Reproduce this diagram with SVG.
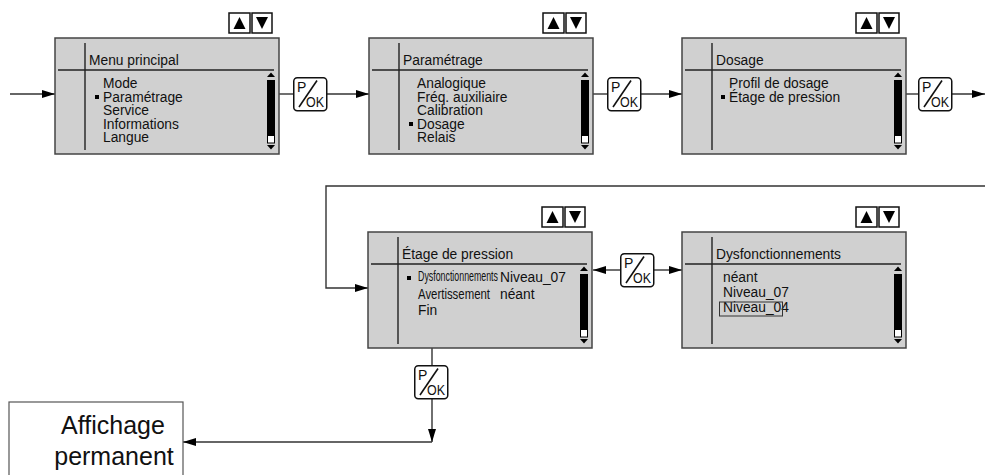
<svg xmlns="http://www.w3.org/2000/svg" xmlns:xlink="http://www.w3.org/1999/xlink" width="985" height="475" viewBox="0 0 985 475">
<style>
  .panel{fill:#d0d0d0;stroke:#444;stroke-width:1.5}
  .div{stroke:#222;stroke-width:1.4;fill:none}
  .t{font-family:"Liberation Sans",Arial,sans-serif;font-size:13.8px;fill:#111}
  .big{font-family:"Liberation Sans",Arial,sans-serif;font-size:25px;fill:#111}
  .conn{stroke:#333;stroke-width:1.4;fill:none}
  .btn{fill:#fff;stroke:#111;stroke-width:1.5}
  .bt{font-family:"Liberation Sans",Arial,sans-serif;font-size:14px;fill:#111}
</style>
<defs>
  <marker id="ah" markerUnits="userSpaceOnUse" markerWidth="13" markerHeight="8" refX="13" refY="4" orient="auto">
    <path d="M0,0 L13,4 L0,8 z" fill="#000"/>
  </marker>
  <g id="scroll">
    <path d="M212,39 L220,39 L216,34.5 z" fill="#000"/>
    <rect x="212" y="42" width="8" height="55" fill="#000"/>
    <rect x="212.5" y="97.5" width="7" height="7.5" fill="#fff" stroke="#000" stroke-width="1"/>
    <path d="M212,107 L220,107 L216,111.5 z" fill="#000"/>
  </g>
  <g id="frame">
    <rect class="panel" x="0" y="0" width="224" height="116"/>
    <line class="div" x1="30" y1="5" x2="30" y2="112"/>
    <line class="div" x1="3" y1="32" x2="219" y2="32"/>
    <use xlink:href="#scroll"/>
    <rect class="btn" x="174" y="-25" width="21" height="20"/>
    <path d="M178.5,-9 L190.5,-9 L184.5,-21 z" fill="#000"/>
    <rect class="btn" x="197" y="-25" width="20" height="20"/>
    <path d="M201,-21 L213,-21 L207,-9 z" fill="#000"/>
  </g>
  <g id="pok">
    <rect class="btn" x="0.75" y="0.75" width="33" height="33" rx="3.5"/>
    <text class="bt" x="4" y="15">P</text>
    <line x1="6" y1="30" x2="24" y2="3.5" stroke="#111" stroke-width="1.6"/>
    <text class="bt" x="13" y="30" font-size="13" textLength="18" lengthAdjust="spacingAndGlyphs">OK</text>
  </g>
</defs>

<g id="connectors">
  <path class="conn" d="M10,94 H55" marker-end="url(#ah)"/>
  <path class="conn" d="M279,94 H293"/>
  <path class="conn" d="M327,94 H369" marker-end="url(#ah)"/>
  <path class="conn" d="M593,94 H607"/>
  <path class="conn" d="M641,94 H682" marker-end="url(#ah)"/>
  <path class="conn" d="M906,94 H918"/>
  <path class="conn" d="M952,94 H985" marker-end="url(#ah)"/>
  <path class="conn" d="M985,186 H326 V288 H368" marker-end="url(#ah)"/>
  <path class="conn" d="M620,270 H593" marker-end="url(#ah)"/>
  <path class="conn" d="M654,270 H682" marker-end="url(#ah)"/>
  <path class="conn" d="M432,319 V365"/>
  <path class="conn" d="M432,399 V442" marker-end="url(#ah)"/>
  <path class="conn" d="M432,442 H183" marker-end="url(#ah)"/>
</g>

<g id="menu-principal" transform="translate(55,38)">
  <use xlink:href="#frame"/>
  <text class="t" x="34" y="27">Menu principal</text>
  <text class="t" x="48" y="50">Mode</text>
  <rect x="40" y="57" width="4" height="4" fill="#000"/>
  <text class="t" x="48" y="63.5">Paramétrage</text>
  <text class="t" x="48" y="77">Service</text>
  <text class="t" x="48" y="90.5">Informations</text>
  <text class="t" x="48" y="104">Langue</text>
</g>

<g id="parametrage" transform="translate(369,38)">
  <use xlink:href="#frame"/>
  <text class="t" x="34" y="27">Paramétrage</text>
  <text class="t" x="48" y="50">Analogique</text>
  <text class="t" x="48" y="63.5">Fréq. auxiliaire</text>
  <text class="t" x="48" y="77">Calibration</text>
  <rect x="40" y="84" width="4" height="4" fill="#000"/>
  <text class="t" x="48" y="90.5">Dosage</text>
  <text class="t" x="48" y="104">Relais</text>
</g>

<g id="dosage" transform="translate(682,38)">
  <use xlink:href="#frame"/>
  <text class="t" x="34" y="27">Dosage</text>
  <text class="t" x="47" y="50">Profil de dosage</text>
  <rect x="39" y="57" width="4" height="4" fill="#000"/>
  <text class="t" x="47" y="63.5">Étage de pression</text>
</g>

<g id="etage-pression" transform="translate(368,232)">
  <use xlink:href="#frame"/>
  <text class="t" x="34" y="27">Étage de pression</text>
  <rect x="39" y="44" width="4" height="4" fill="#000"/>
  <text class="t" x="50" y="48.5" font-size="12.5" textLength="80" lengthAdjust="spacingAndGlyphs">Dysfonctionnements</text>
  <text class="t" x="132" y="50">Niveau_07</text>
  <text class="t" x="50" y="66.5" textLength="72" lengthAdjust="spacingAndGlyphs">Avertissement</text>
  <text class="t" x="132" y="66.5">néant</text>
  <text class="t" x="50" y="83">Fin</text>
</g>

<g id="dysfonctionnements" transform="translate(682,232)">
  <use xlink:href="#frame"/>
  <text class="t" x="34" y="27">Dysfonctionnements</text>
  <text class="t" x="41" y="50">néant</text>
  <text class="t" x="41" y="65">Niveau_07</text>
  <text class="t" x="41" y="80">Niveau_04</text>
  <rect x="37.5" y="70" width="63" height="14" fill="none" stroke="#333" stroke-width="1"/>
</g>

<g id="pok-1"><use xlink:href="#pok" x="293" y="77"/></g>
<g id="pok-2"><use xlink:href="#pok" x="607" y="77"/></g>
<g id="pok-3"><use xlink:href="#pok" x="918" y="77"/></g>
<g id="pok-4"><use xlink:href="#pok" x="620" y="253"/></g>
<g id="pok-5"><use xlink:href="#pok" x="414" y="365"/></g>

<g id="affichage-permanent">
  <rect x="9" y="402" width="174" height="90" fill="#fff" stroke="#555" stroke-width="1.2"/>
  <text class="big" x="113" y="434" text-anchor="middle">Affichage</text>
  <text class="big" x="114" y="465" text-anchor="middle">permanent</text>
</g>
</svg>
